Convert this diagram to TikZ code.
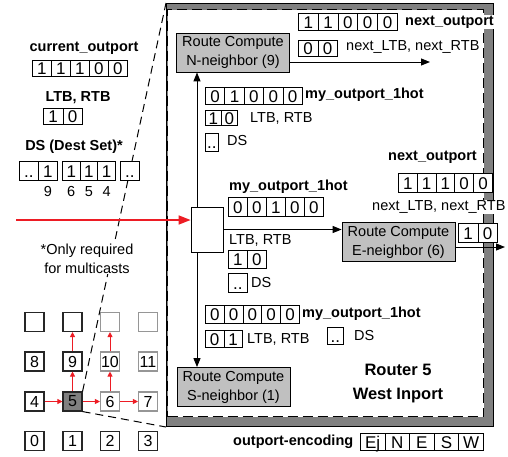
\documentclass[tikz,border=0pt]{standalone}
\usepackage{fontspec}
\setmainfont{Liberation Sans}
\usetikzlibrary{arrows.meta,calc}
\definecolor{bandgray}{RGB}{128,128,128}
\definecolor{boxgray}{RGB}{192,192,192}
\definecolor{arrred}{RGB}{237,28,36}
\definecolor{lightframe}{RGB}{150,150,150}
\newcommand{\cellrow}[6]{%
  \foreach \v [count=\i] in {#6} {
    \node[cell, minimum width=#4pt, minimum height=#5pt, anchor=north west] (#1-\i) at ({#2+(\i-1)*#4}, #3) {\v};
  }}
\tikzset{
  every node/.style={font=\fontsize{14.5}{17}\selectfont},
  cell/.style={draw=black, line width=0.8pt, inner sep=0pt, fill=white, font=\fontsize{17}{19}\selectfont, text height=12.2pt, text depth=0pt},
  lbl/.style={inner sep=1pt, anchor=west},
  blbl/.style={lbl, font=\fontsize{14.5}{17}\selectfont\bfseries},
  wbg/.style={fill=white},
  rc/.style={draw=black, fill=boxgray, line width=0.8pt, minimum width=113pt, minimum height=39pt, inner sep=0pt, align=center, font=\fontsize{14.5}{19}\selectfont},
  gnode/.style={draw=black!85, line width=1.1pt, minimum size=19pt, inner sep=0pt, font=\fontsize{16}{17}\selectfont},
  gnodel/.style={gnode, draw=lightframe},
  arr/.style={line width=1pt, -{Triangle[length=9pt,width=7pt]}},
  rarr/.style={draw=arrred, line width=1pt, -{Triangle[length=5pt,width=5pt]}},
  bigrarr/.style={draw=arrred, line width=1.5pt, -{Triangle[length=12pt,width=9pt]}},
  zoomline/.style={line width=1pt, dash pattern=on 8pt off 5pt},
}
\begin{document}
\begin{tikzpicture}[x=1pt,y=-1pt]
\useasboundingbox (0,0) rectangle (508,456);

% ---------------- grid ----------------
\node[gnode] (g0) at (34.5,441) {0};
\node[gnode] (g1) at (72.5,441) {1};
\node[gnode] (g2) at (110,441) {2};
\node[gnode] (g3) at (148,441) {3};
\node[gnode] (g4) at (34.5,401.5) {4};
\node[gnode, fill=bandgray] (g5) at (72.5,401.5) {5};
\node[gnodel] (g6) at (110,401.5) {6};
\node[gnodel] (g7) at (148,401.5) {7};
\node[gnode] (g8) at (34.5,361.5) {8};
\node[gnode] (g9) at (72.5,361.5) {9};
\node[gnodel] (g10) at (110,361.5) {10};
\node[gnodel] (g11) at (148,361.5) {11};
\node[gnode] (g12) at (34.5,322) {};
\node[gnode] (g13) at (72.5,322) {};
\node[gnodel] (g14) at (110,322) {};
\node[gnodel] (g15) at (148,322) {};
\draw[rarr] (g4) -- (g5);
\draw[rarr] (g5) -- (g6);
\draw[rarr] (g6) -- (g7);
\draw[rarr] (g5) -- (g9);
\draw[rarr] (g9) -- (g13);
\draw[rarr] (g6) -- (g10);
\draw[rarr] (g10) -- (g14);

% ---------------- router box ----------------
\node[draw=black, fill=bandgray, line width=1pt, minimum width=327pt, minimum height=423pt, anchor=north west, inner sep=0pt] (router) at (166,3) {};
\node[draw=black, fill=white, line width=1pt, dash pattern=on 10pt off 5pt, minimum width=316pt, minimum height=407pt, anchor=north west, inner sep=0pt] (inner) at (167,9) {};
\draw[zoomline] (g5.north east) -- (router.north west);
\draw[zoomline] (g5.south east) -- (router.south west);

% ---------------- left side ----------------
\node[font=\fontsize{14.5}{17}\selectfont\bfseries, inner sep=1pt] (curlbl) at (84,48) {current\_outport};
\cellrow{cur}{32}{60}{19}{16}{1,1,1,0,0}
\node[font=\fontsize{14.5}{17}\selectfont\bfseries, inner sep=1pt] (ltblbl) at (78,98) {LTB, RTB};
\cellrow{ltb}{43}{108}{19.5}{16}{1,0}
\node[font=\fontsize{14.5}{17}\selectfont\bfseries, inner sep=1pt] (dslbl) at (74,147) {DS (Dest Set)*};
\cellrow{dsa}{19}{161}{19}{19}{..,1}
\cellrow{dsb}{62}{161}{17.7}{19}{1,1,1}
\cellrow{dsc}{120}{161}{19}{19}{..}
\node[inner sep=1pt] (n9) at (dsa-2.center |- 0,192) {9};
\node[inner sep=1pt] (n6) at (dsb-1.center |- 0,192) {6};
\node[inner sep=1pt] (n5) at (dsb-2.center |- 0,192) {5};
\node[inner sep=1pt] (n4) at (dsb-3.center |- 0,192) {4};
\node[align=center, inner sep=1pt, fill=white, font=\fontsize{14.5}{19}\selectfont] (note) at (87,258.5) {*Only required\\for multicasts};

% N neighbor
\node[rc] (N) at (233,52.5) {Route Compute\\N-neighbor (9)};
\coordinate (Nout) at (430,62);
\draw[arr] (N.east |- Nout) -- (Nout);
\cellrow{nno}{298}{13}{19.8}{17}{1,1,0,0,0}
\node[blbl, wbg] (nnolbl) at (404,22) {next\_outport};
\cellrow{nnl}{298}{40}{19.5}{16}{0,0}
\node[lbl, wbg] (nnllbl) at (345,47) {next\_LTB, next\_RTB};
\cellrow{nmo}{205}{87}{19.4}{17}{0,1,0,0,0}
\node[blbl] (nmolbl) at (304,95) {my\_outport\_1hot};
\cellrow{nlt}{205}{110}{16}{15}{1,0}
\node[lbl] (nltlbl) at (249,118) {LTB, RTB};
\cellrow{nds}{205}{133}{13}{18}{..}
\node[lbl] (ndslbl) at (226,141) {DS};

% input box and E neighbor
\node[draw=black, fill=white, line width=0.8pt, minimum width=32pt, minimum height=45pt, inner sep=0pt] (inbox) at (207,229.5) {};
\coordinate (vx) at (197,0);
\node[rc] (S) at (233.5,387) {Route Compute\\S-neighbor (1)};
\draw[arr] (vx |- inbox.north) -- (vx |- N.south);
\draw[arr] (vx |- inbox.south) -- (vx |- S.north);
\node[rc] (E) at (398.5,242) {Route Compute\\E-neighbor (6)};
\draw[arr] (inbox.east) -- (inbox.east -| E.west);
\coordinate (Eout) at (505,247);
\draw[arr] (E.east |- Eout) -- (Eout);
\node[blbl] (emolbl) at (228,187) {my\_outport\_1hot};
\cellrow{emo}{228}{197}{19}{19}{0,0,1,0,0}
\node[lbl] (eltlbl) at (228,240) {LTB, RTB};
\cellrow{elt}{228}{250}{19}{18}{1,0}
\cellrow{eds}{228}{273}{19}{19}{..}
\node[lbl] (edslbl) at (250,282) {DS};
\node[blbl, wbg] (enolbl) at (387,157) {next\_outport};
\cellrow{eno}{398}{173}{18.8}{19}{1,1,1,0,0}
\node[lbl, wbg] (enllbl) at (371,207) {next\_LTB, next\_RTB};
\cellrow{enl}{458}{223}{19.5}{19}{1,0}

% S neighbor
\cellrow{smo}{205}{305}{18.8}{18}{0,0,0,0,0}
\node[blbl] (smolbl) at (301,314) {my\_outport\_1hot};
\cellrow{slt}{205}{330}{18.5}{17}{0,1}
\node[lbl] (sltlbl) at (246,339) {LTB, RTB};
\cellrow{sds}{327}{327}{16}{17}{..}
\node[lbl] (sdslbl) at (353,335) {DS};

\node[font=\fontsize{16.5}{24}\selectfont\bfseries, align=center, inner sep=0pt] (rname) at (398,384) {Router 5\\West Inport};

% red input arrow
\coordinate (redstart) at (16,220);
\draw[bigrarr] (redstart) -- (inbox.west |- redstart);

% outport encoding
\node[blbl] (enclbl) at (232,442) {outport-encoding};
\cellrow{enc}{360}{433}{24.6}{17}{Ej,N,E,S,W}
\end{tikzpicture}
\end{document}
